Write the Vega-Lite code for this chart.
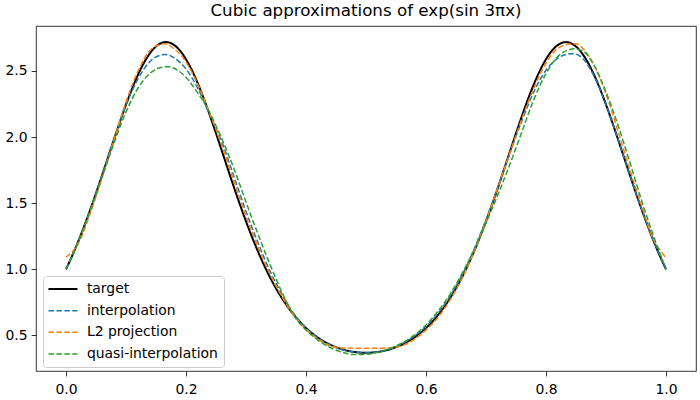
{
"$schema": "https://vega.github.io/schema/vega-lite/v6.json",
"width": 660, "height": 345,
"autosize": {"type": "none"},
"padding": {"left": 36, "top": 26, "right": 4, "bottom": 29},
"background": "white",
"title": {"text": "Cubic approximations of exp(sin 3πx)", "font": "DejaVu Sans", "fontSize": 16.7, "fontWeight": "normal", "color": "black", "anchor": "middle", "frame": "group", "baseline": "alphabetic", "offset": 8.5, "dy": 15.5},
"config": {"view": {"stroke": "black", "strokeWidth": 0.8}, "font": "DejaVu Sans"},
"data": {"values": [
{"s":"target","x":0.00,"y":1.0},{"s":"target","x":0.01,"y":1.0987},{"s":"target","x":0.02,"y":1.2061},{"s":"target","x":0.03,"y":1.3218},{"s":"target","x":0.04,"y":1.4450},{"s":"target","x":0.05,"y":1.5746},{"s":"target","x":0.06,"y":1.7089},{"s":"target","x":0.07,"y":1.8459},{"s":"target","x":0.08,"y":1.9829},{"s":"target","x":0.09,"y":2.1173},{"s":"target","x":0.10,"y":2.2458},{"s":"target","x":0.11,"y":2.3649},{"s":"target","x":0.12,"y":2.4715},{"s":"target","x":0.13,"y":2.5622},{"s":"target","x":0.14,"y":2.6342},{"s":"target","x":0.15,"y":2.6850},{"s":"target","x":0.16,"y":2.7129},{"s":"target","x":0.16667,"y":2.7183},{"s":"target","x":0.17,"y":2.7169},{"s":"target","x":0.18,"y":2.6969},{"s":"target","x":0.19,"y":2.6536},{"s":"target","x":0.20,"y":2.5885},{"s":"target","x":0.21,"y":2.5036},{"s":"target","x":0.22,"y":2.4020},{"s":"target","x":0.23,"y":2.2866},{"s":"target","x":0.24,"y":2.1609},{"s":"target","x":0.25,"y":2.0282},{"s":"target","x":0.26,"y":1.8916},{"s":"target","x":0.27,"y":1.7543},{"s":"target","x":0.28,"y":1.6189},{"s":"target","x":0.29,"y":1.4876},{"s":"target","x":0.30,"y":1.3621},{"s":"target","x":0.31,"y":1.2438},{"s":"target","x":0.32,"y":1.1335},{"s":"target","x":0.33,"y":1.0319},{"s":"target","x":0.34,"y":0.9391},{"s":"target","x":0.35,"y":0.8552},{"s":"target","x":0.36,"y":0.7798},{"s":"target","x":0.37,"y":0.7127},{"s":"target","x":0.38,"y":0.6533},{"s":"target","x":0.39,"y":0.6011},{"s":"target","x":0.40,"y":0.5556},{"s":"target","x":0.41,"y":0.5162},{"s":"target","x":0.42,"y":0.4824},{"s":"target","x":0.43,"y":0.4538},{"s":"target","x":0.44,"y":0.4298},{"s":"target","x":0.45,"y":0.4102},{"s":"target","x":0.46,"y":0.3946},{"s":"target","x":0.47,"y":0.3828},{"s":"target","x":0.48,"y":0.3745},{"s":"target","x":0.49,"y":0.3695},{"s":"target","x":0.50,"y":0.3679},{"s":"target","x":0.51,"y":0.3695},{"s":"target","x":0.52,"y":0.3745},{"s":"target","x":0.53,"y":0.3828},{"s":"target","x":0.54,"y":0.3946},{"s":"target","x":0.55,"y":0.4102},{"s":"target","x":0.56,"y":0.4298},{"s":"target","x":0.57,"y":0.4538},{"s":"target","x":0.58,"y":0.4824},{"s":"target","x":0.59,"y":0.5162},{"s":"target","x":0.60,"y":0.5556},{"s":"target","x":0.61,"y":0.6011},{"s":"target","x":0.62,"y":0.6533},{"s":"target","x":0.63,"y":0.7127},{"s":"target","x":0.64,"y":0.7798},{"s":"target","x":0.65,"y":0.8552},{"s":"target","x":0.66,"y":0.9391},{"s":"target","x":0.67,"y":1.0319},{"s":"target","x":0.68,"y":1.1335},{"s":"target","x":0.69,"y":1.2438},{"s":"target","x":0.70,"y":1.3621},{"s":"target","x":0.71,"y":1.4876},{"s":"target","x":0.72,"y":1.6189},{"s":"target","x":0.73,"y":1.7543},{"s":"target","x":0.74,"y":1.8916},{"s":"target","x":0.75,"y":2.0282},{"s":"target","x":0.76,"y":2.1609},{"s":"target","x":0.77,"y":2.2866},{"s":"target","x":0.78,"y":2.4020},{"s":"target","x":0.79,"y":2.5036},{"s":"target","x":0.80,"y":2.5885},{"s":"target","x":0.81,"y":2.6536},{"s":"target","x":0.82,"y":2.6969},{"s":"target","x":0.83,"y":2.7169},{"s":"target","x":0.83333,"y":2.7183},{"s":"target","x":0.84,"y":2.7129},{"s":"target","x":0.85,"y":2.6850},{"s":"target","x":0.86,"y":2.6342},{"s":"target","x":0.87,"y":2.5622},{"s":"target","x":0.88,"y":2.4715},{"s":"target","x":0.89,"y":2.3649},{"s":"target","x":0.90,"y":2.2458},{"s":"target","x":0.91,"y":2.1173},{"s":"target","x":0.92,"y":1.9829},{"s":"target","x":0.93,"y":1.8459},{"s":"target","x":0.94,"y":1.7089},{"s":"target","x":0.95,"y":1.5746},{"s":"target","x":0.96,"y":1.4450},{"s":"target","x":0.97,"y":1.3218},{"s":"target","x":0.98,"y":1.2061},{"s":"target","x":0.99,"y":1.0987},{"s":"target","x":1.00,"y":1.0},
{"s":"interpolation","x":0.00,"y":1.000},{"s":"interpolation","x":0.02,"y":1.206},{"s":"interpolation","x":0.04,"y":1.445},{"s":"interpolation","x":0.06,"y":1.709},{"s":"interpolation","x":0.08,"y":1.982},{"s":"interpolation","x":0.10,"y":2.240},{"s":"interpolation","x":0.12,"y":2.440},{"s":"interpolation","x":0.14,"y":2.572},{"s":"interpolation","x":0.16,"y":2.622},{"s":"interpolation","x":0.165,"y":2.625},{"s":"interpolation","x":0.18,"y":2.600},{"s":"interpolation","x":0.20,"y":2.515},{"s":"interpolation","x":0.22,"y":2.365},{"s":"interpolation","x":0.24,"y":2.165},{"s":"interpolation","x":0.26,"y":1.960},{"s":"interpolation","x":0.28,"y":1.700},{"s":"interpolation","x":0.30,"y":1.437},{"s":"interpolation","x":0.32,"y":1.200},{"s":"interpolation","x":0.34,"y":0.986},{"s":"interpolation","x":0.36,"y":0.810},{"s":"interpolation","x":0.38,"y":0.662},{"s":"interpolation","x":0.40,"y":0.558},{"s":"interpolation","x":0.42,"y":0.481},{"s":"interpolation","x":0.44,"y":0.428},{"s":"interpolation","x":0.46,"y":0.393},{"s":"interpolation","x":0.48,"y":0.374},{"s":"interpolation","x":0.50,"y":0.369},{"s":"interpolation","x":0.52,"y":0.373},{"s":"interpolation","x":0.54,"y":0.397},{"s":"interpolation","x":0.56,"y":0.436},{"s":"interpolation","x":0.58,"y":0.492},{"s":"interpolation","x":0.60,"y":0.567},{"s":"interpolation","x":0.62,"y":0.667},{"s":"interpolation","x":0.64,"y":0.796},{"s":"interpolation","x":0.66,"y":0.955},{"s":"interpolation","x":0.68,"y":1.150},{"s":"interpolation","x":0.70,"y":1.375},{"s":"interpolation","x":0.72,"y":1.625},{"s":"interpolation","x":0.74,"y":1.880},{"s":"interpolation","x":0.76,"y":2.125},{"s":"interpolation","x":0.78,"y":2.345},{"s":"interpolation","x":0.80,"y":2.505},{"s":"interpolation","x":0.82,"y":2.597},{"s":"interpolation","x":0.84,"y":2.630},{"s":"interpolation","x":0.845,"y":2.631},{"s":"interpolation","x":0.86,"y":2.600},{"s":"interpolation","x":0.88,"y":2.462},{"s":"interpolation","x":0.90,"y":2.245},{"s":"interpolation","x":0.92,"y":1.983},{"s":"interpolation","x":0.94,"y":1.709},{"s":"interpolation","x":0.96,"y":1.445},{"s":"interpolation","x":0.98,"y":1.206},{"s":"interpolation","x":1.00,"y":1.000},
{"s":"L2 projection","x":0.00,"y":1.092},{"s":"L2 projection","x":0.01,"y":1.130},{"s":"L2 projection","x":0.02,"y":1.190},{"s":"L2 projection","x":0.04,"y":1.418},{"s":"L2 projection","x":0.06,"y":1.688},{"s":"L2 projection","x":0.08,"y":1.980},{"s":"L2 projection","x":0.10,"y":2.265},{"s":"L2 projection","x":0.12,"y":2.500},{"s":"L2 projection","x":0.14,"y":2.655},{"s":"L2 projection","x":0.16,"y":2.703},{"s":"L2 projection","x":0.165,"y":2.705},{"s":"L2 projection","x":0.18,"y":2.668},{"s":"L2 projection","x":0.20,"y":2.568},{"s":"L2 projection","x":0.22,"y":2.395},{"s":"L2 projection","x":0.24,"y":2.175},{"s":"L2 projection","x":0.26,"y":1.932},{"s":"L2 projection","x":0.28,"y":1.662},{"s":"L2 projection","x":0.30,"y":1.400},{"s":"L2 projection","x":0.32,"y":1.168},{"s":"L2 projection","x":0.34,"y":0.962},{"s":"L2 projection","x":0.36,"y":0.792},{"s":"L2 projection","x":0.38,"y":0.650},{"s":"L2 projection","x":0.40,"y":0.545},{"s":"L2 projection","x":0.42,"y":0.472},{"s":"L2 projection","x":0.44,"y":0.420},{"s":"L2 projection","x":0.45,"y":0.408},{"s":"L2 projection","x":0.46,"y":0.404},{"s":"L2 projection","x":0.48,"y":0.403},{"s":"L2 projection","x":0.50,"y":0.403},{"s":"L2 projection","x":0.52,"y":0.403},{"s":"L2 projection","x":0.54,"y":0.405},{"s":"L2 projection","x":0.56,"y":0.421},{"s":"L2 projection","x":0.58,"y":0.468},{"s":"L2 projection","x":0.60,"y":0.540},{"s":"L2 projection","x":0.62,"y":0.636},{"s":"L2 projection","x":0.64,"y":0.766},{"s":"L2 projection","x":0.66,"y":0.930},{"s":"L2 projection","x":0.68,"y":1.130},{"s":"L2 projection","x":0.70,"y":1.362},{"s":"L2 projection","x":0.72,"y":1.618},{"s":"L2 projection","x":0.74,"y":1.882},{"s":"L2 projection","x":0.76,"y":2.140},{"s":"L2 projection","x":0.78,"y":2.372},{"s":"L2 projection","x":0.80,"y":2.560},{"s":"L2 projection","x":0.82,"y":2.672},{"s":"L2 projection","x":0.84,"y":2.703},{"s":"L2 projection","x":0.85,"y":2.705},{"s":"L2 projection","x":0.86,"y":2.676},{"s":"L2 projection","x":0.88,"y":2.545},{"s":"L2 projection","x":0.90,"y":2.325},{"s":"L2 projection","x":0.92,"y":2.045},{"s":"L2 projection","x":0.94,"y":1.750},{"s":"L2 projection","x":0.96,"y":1.470},{"s":"L2 projection","x":0.98,"y":1.215},{"s":"L2 projection","x":0.99,"y":1.145},{"s":"L2 projection","x":1.00,"y":1.085},
{"s":"quasi-interpolation","x":0.00,"y":1.000},{"s":"quasi-interpolation","x":0.02,"y":1.203},{"s":"quasi-interpolation","x":0.04,"y":1.438},{"s":"quasi-interpolation","x":0.06,"y":1.695},{"s":"quasi-interpolation","x":0.08,"y":1.955},{"s":"quasi-interpolation","x":0.10,"y":2.190},{"s":"quasi-interpolation","x":0.12,"y":2.370},{"s":"quasi-interpolation","x":0.14,"y":2.482},{"s":"quasi-interpolation","x":0.16,"y":2.528},{"s":"quasi-interpolation","x":0.17,"y":2.532},{"s":"quasi-interpolation","x":0.18,"y":2.520},{"s":"quasi-interpolation","x":0.20,"y":2.452},{"s":"quasi-interpolation","x":0.22,"y":2.330},{"s":"quasi-interpolation","x":0.23,"y":2.262},{"s":"quasi-interpolation","x":0.24,"y":2.180},{"s":"quasi-interpolation","x":0.25,"y":2.085},{"s":"quasi-interpolation","x":0.26,"y":1.985},{"s":"quasi-interpolation","x":0.27,"y":1.875},{"s":"quasi-interpolation","x":0.28,"y":1.760},{"s":"quasi-interpolation","x":0.29,"y":1.635},{"s":"quasi-interpolation","x":0.30,"y":1.508},{"s":"quasi-interpolation","x":0.31,"y":1.385},{"s":"quasi-interpolation","x":0.32,"y":1.266},{"s":"quasi-interpolation","x":0.33,"y":1.148},{"s":"quasi-interpolation","x":0.34,"y":1.036},{"s":"quasi-interpolation","x":0.35,"y":0.928},{"s":"quasi-interpolation","x":0.36,"y":0.824},{"s":"quasi-interpolation","x":0.37,"y":0.733},{"s":"quasi-interpolation","x":0.38,"y":0.648},{"s":"quasi-interpolation","x":0.39,"y":0.588},{"s":"quasi-interpolation","x":0.40,"y":0.540},{"s":"quasi-interpolation","x":0.42,"y":0.463},{"s":"quasi-interpolation","x":0.44,"y":0.408},{"s":"quasi-interpolation","x":0.46,"y":0.372},{"s":"quasi-interpolation","x":0.48,"y":0.354},{"s":"quasi-interpolation","x":0.50,"y":0.356},{"s":"quasi-interpolation","x":0.52,"y":0.372},{"s":"quasi-interpolation","x":0.54,"y":0.401},{"s":"quasi-interpolation","x":0.56,"y":0.442},{"s":"quasi-interpolation","x":0.58,"y":0.499},{"s":"quasi-interpolation","x":0.60,"y":0.578},{"s":"quasi-interpolation","x":0.62,"y":0.683},{"s":"quasi-interpolation","x":0.64,"y":0.810},{"s":"quasi-interpolation","x":0.66,"y":0.967},{"s":"quasi-interpolation","x":0.68,"y":1.145},{"s":"quasi-interpolation","x":0.70,"y":1.350},{"s":"quasi-interpolation","x":0.72,"y":1.566},{"s":"quasi-interpolation","x":0.74,"y":1.796},{"s":"quasi-interpolation","x":0.76,"y":2.041},{"s":"quasi-interpolation","x":0.78,"y":2.287},{"s":"quasi-interpolation","x":0.80,"y":2.480},{"s":"quasi-interpolation","x":0.82,"y":2.610},{"s":"quasi-interpolation","x":0.84,"y":2.663},{"s":"quasi-interpolation","x":0.845,"y":2.667},{"s":"quasi-interpolation","x":0.86,"y":2.655},{"s":"quasi-interpolation","x":0.88,"y":2.544},{"s":"quasi-interpolation","x":0.90,"y":2.341},{"s":"quasi-interpolation","x":0.92,"y":2.090},{"s":"quasi-interpolation","x":0.94,"y":1.805},{"s":"quasi-interpolation","x":0.96,"y":1.510},{"s":"quasi-interpolation","x":0.98,"y":1.241},{"s":"quasi-interpolation","x":1.00,"y":1.000}
]},
"mark": {"type": "line", "interpolate": "monotone"},
"encoding": {
  "x": {"field": "x", "type": "quantitative",
    "scale": {"domain": [-0.05, 1.05], "nice": false, "zero": false},
    "axis": {"values": [0, 0.2, 0.4, 0.6, 0.8, 1.0], "format": ".1f", "title": null, "grid": false, "domain": false, "tickColor": "black", "tickSize": 4.9, "tickWidth": 0.8, "labelFontSize": 13.9, "labelFont": "DejaVu Sans", "labelColor": "black", "labelPadding": 7}},
  "y": {"field": "y", "type": "quantitative",
    "scale": {"domain": [0.23, 2.84], "nice": false, "zero": false},
    "axis": {"values": [0.5, 1.0, 1.5, 2.0, 2.5], "format": ".1f", "title": null, "grid": false, "domain": false, "tickColor": "black", "tickSize": 4.9, "tickWidth": 0.8, "labelFontSize": 13.9, "labelFont": "DejaVu Sans", "labelColor": "black", "labelPadding": 4}},
  "color": {"field": "s", "type": "nominal",
    "scale": {"domain": ["target", "interpolation", "L2 projection", "quasi-interpolation"], "range": ["#000000", "#1f77b4", "#ff7f0e", "#2ca02c"]},
    "legend": {"title": null, "orient": "none", "legendX": 7, "legendY": 250, "fillColor": "rgba(255,255,255,0.8)", "strokeColor": "#cccccc", "cornerRadius": 3, "padding": 6, "symbolType": "M-2.9,0H2.9", "symbolSize": 100, "symbolOffset": 7, "labelOffset": 17, "rowPadding": 6.7, "labelFontSize": 13.9, "labelFont": "DejaVu Sans", "labelColor": "black", "labelBaseline": "middle"}},
  "strokeDash": {"field": "s", "type": "nominal",
    "scale": {"domain": ["target", "interpolation", "L2 projection", "quasi-interpolation"], "range": [[1, 0], [5.55, 2.4], [5.55, 2.4], [5.55, 2.4]]}},
  "strokeWidth": {"field": "s", "type": "nominal",
    "scale": {"type": "ordinal", "domain": ["target", "interpolation", "L2 projection", "quasi-interpolation"], "range": [2, 1.5, 1.5, 1.5]}}
}
}
